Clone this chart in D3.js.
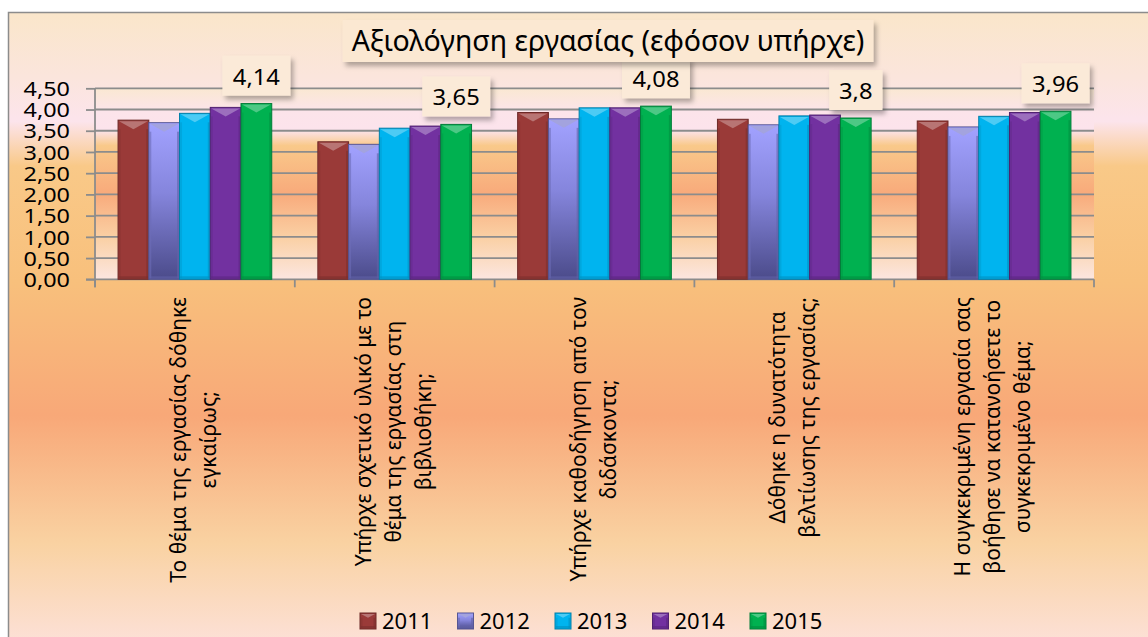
<!DOCTYPE html>
<html>
<head>
<meta charset="utf-8">
<script src="https://cdn.jsdelivr.net/npm/d3@7"></script>
<style>
  body { margin: 0; background: #fff; }
  svg { display: block; font-family: "Noto Sans", "Open Sans", sans-serif; }
</style>
</head>
<body>
<div id="chart"></div>
<script>
// chart data
const categories = [
  'Το θέμα της εργασίας δόθηκε\nεγκαίρως;',
  'Υπήρχε σχετικό υλικό με το\nθέμα της εργασίας στη\nβιβλιοθήκη;',
  'Υπήρχε καθοδήγηση από τον\nδιδάσκοντα;',
  'Δόθηκε η δυνατότητα\nβελτίωσης της εργασίας;',
  'Η συγκεκριμένη εργασία σας\nβοήθησε να κατανοήσετε το\nσυγκεκριμένο θέμα;',
];
const years = ['2011', '2012', '2013', '2014', '2015'];
const values2011 = [3.75, 3.24, 3.93, 3.77, 3.73];
const values2012 = [3.69, 3.18, 3.78, 3.64, 3.59];
const values2013 = [3.91, 3.56, 4.04, 3.85, 3.84];
const values2014 = [4.05, 3.61, 4.04, 3.87, 3.93];
const values2015 = [4.14, 3.65, 4.08, 3.8, 3.96];
const yTicks = [0, 0.5, 1, 1.5, 2, 2.5, 3, 3.5, 4, 4.5];
const title = 'Αξιολόγηση εργασίας (εφόσον υπήρχε)';

const series = [values2011, values2012, values2013, values2014, values2015];
const colors = ['#9a3a38', '#7b7bd0', '#00b4ef', '#7231a0', '#00b150'];

const width = 1148;
const height = 637;
const plot = { left: 95, right: 1094, top: 88.3, bottom: 279.3 };

const svg = d3.select('#chart').append('svg')
  .attr('width', width)
  .attr('height', height);

const defs = svg.append('defs');

const addGradient = (id, stops) => {
  const g = defs.append('linearGradient').attr('id', id)
    .attr('x1', 0).attr('y1', 0).attr('x2', 0).attr('y2', 1);
  stops.forEach(([o, c]) => g.append('stop').attr('offset', o).attr('stop-color', c));
};

addGradient('bg-chart', [
  [0, '#fae6ca'], [0.1, '#fbe5dc'], [0.17, '#fce4ec'], [0.24, '#f9c988'],
  [0.42, '#f8c07c'], [0.63, '#f8a878'], [0.83, '#f9d2a2'], [1, '#fde2dc'],
]);
addGradient('bg-plot', [
  [0, '#fae8d2'], [0.12, '#fce4ea'], [0.22, '#fce3ec'], [0.3, '#f9c98a'],
  [0.55, '#f8aa7b'], [0.78, '#fad0a4'], [1, '#fce6e0'],
]);
addGradient('bar-2012', [[0, '#a2a2ff'], [0.45, '#8585dc'], [1, '#4b4b8a']]);

const shadow = defs.append('filter').attr('id', 'shadow')
  .attr('x', '-20%').attr('y', '-20%').attr('width', '150%').attr('height', '160%');
shadow.append('feDropShadow')
  .attr('dx', 3).attr('dy', 4).attr('stdDeviation', 2.5)
  .attr('flood-color', '#000').attr('flood-opacity', 0.3);

// stretch text a little sideways, like the wide original font
const widen = (sel, k) => sel.each(function () {
  const n = d3.select(this);
  n.attr('textLength', this.getComputedTextLength() * k).attr('lengthAdjust', 'spacingAndGlyphs');
});

// chart area
svg.append('rect')
  .attr('x', 8.5).attr('y', 12.5)
  .attr('width', width).attr('height', 640)
  .attr('fill', 'url(#bg-chart)')
  .attr('stroke', '#8c8c8c')
  .attr('stroke-width', 1.5);

svg.append('rect')
  .attr('x', plot.left).attr('y', plot.top)
  .attr('width', plot.right - plot.left).attr('height', plot.bottom - plot.top)
  .attr('fill', 'url(#bg-plot)');

// scales
const x = d3.scaleBand().domain(d3.range(categories.length))
  .range([plot.left, plot.right]).padding(0);
const xs = d3.scaleBand().domain(years)
  .range([0, x.bandwidth()]).paddingInner(0).paddingOuter(0.75);
const y = d3.scaleLinear().domain([0, 4.5]).range([plot.bottom, plot.top]);

const locale = d3.formatLocale({ decimal: ',', thousands: '.', grouping: [3], currency: ['', '€'] });
const fmt = locale.format('.2f');

// gridlines + y axis
const yAxis = d3.axisLeft(y).tickValues(yTicks).tickFormat(fmt)
  .tickSize(9).tickPadding(16);
const gy = svg.append('g').attr('transform', `translate(${plot.left},0)`).call(yAxis);
gy.select('.domain').remove();
gy.selectAll('.tick line').attr('stroke', '#8c8c8c').attr('stroke-width', 1.8);
gy.selectAll('.tick text')
  .attr('font-size', 20).attr('fill', '#000')
  .attr('font-family', '"Noto Sans", sans-serif')
  .attr('dy', '0.36em');
widen(gy.selectAll('.tick text'), 1.17);

svg.append('g').selectAll('line')
  .data(yTicks.filter((t) => t > 0))
  .join('line')
  .attr('x1', plot.left).attr('x2', plot.right)
  .attr('y1', (d) => y(d)).attr('y2', (d) => y(d))
  .attr('stroke', '#8c8c8c').attr('stroke-width', 1.8);

svg.append('line')
  .attr('x1', plot.left).attr('x2', plot.left)
  .attr('y1', plot.top).attr('y2', plot.bottom + 8)
  .attr('stroke', '#8c8c8c').attr('stroke-width', 1.8);

// x axis
svg.append('line')
  .attr('x1', plot.left - 9).attr('x2', plot.right)
  .attr('y1', plot.bottom).attr('y2', plot.bottom)
  .attr('stroke', '#8c8c8c').attr('stroke-width', 1.8);
svg.append('g').selectAll('line')
  .data(d3.range(categories.length + 1))
  .join('line')
  .attr('x1', (i) => plot.left + i * x.step()).attr('x2', (i) => plot.left + i * x.step())
  .attr('y1', plot.bottom).attr('y2', plot.bottom + 8)
  .attr('stroke', '#8c8c8c').attr('stroke-width', 1.8);

// bars
const lighten = (c, k) => d3.interpolateRgb(c, '#fff')(k);
const darken = (c, k) => d3.interpolateRgb(c, '#000')(k);

const drawBevelBox = (g, x0, y0, w, h, fill, base) => {
  g.append('rect').attr('x', x0).attr('y', y0).attr('width', w).attr('height', h)
    .attr('fill', fill).attr('stroke', darken(base, 0.3)).attr('stroke-width', 1);
  const d = Math.min(w * 0.3, 9);
  g.append('path')
    .attr('d', `M${x0 + 1},${y0 + 1}L${x0 + w - 1},${y0 + 1}L${x0 + w / 2},${y0 + d}Z`)
    .attr('fill', lighten(base, 0.3));
  g.append('rect').attr('x', x0 + 0.5).attr('y', y0 + d)
    .attr('width', 2).attr('height', Math.max(h - d - 1, 0))
    .attr('fill', darken(base, 0.12)).attr('opacity', 0.6);
  g.append('rect').attr('x', x0 + w - 2.5).attr('y', y0 + d)
    .attr('width', 2).attr('height', Math.max(h - d - 1, 0))
    .attr('fill', darken(base, 0.2)).attr('opacity', 0.6);
  g.append('rect').attr('x', x0 + 0.5).attr('y', y0 + h - 3)
    .attr('width', w - 1).attr('height', 2.5)
    .attr('fill', darken(base, 0.2)).attr('opacity', 0.6);
};

const barsG = svg.append('g');
categories.forEach((cat, ci) => {
  years.forEach((yr, si) => {
    const v = series[si][ci];
    const fill = yr === '2012' ? 'url(#bar-2012)' : colors[si];
    const g = barsG.append('g');
    drawBevelBox(g, x(ci) + xs(yr), y(v), xs.bandwidth(), y(0) - y(v), fill, colors[si]);
  });
});

// data labels for last series
const labelsG = svg.append('g');
categories.forEach((cat, ci) => {
  const v = values2015[ci];
  const cx = x(ci) + xs('2015') + xs.bandwidth() / 2;
  const g = labelsG.append('g');
  const t = g.append('text')
    .attr('x', cx).attr('y', y(v) - 19)
    .attr('text-anchor', 'middle')
    .attr('font-size', 22).attr('fill', '#000')
    .text(String(v).replace('.', ','));
  widen(t, 1.08);
  const w = t.node().getComputedTextLength() * 1.08 + 17;
  g.insert('rect', 'text')
    .attr('x', cx - w / 2).attr('y', y(v) - 48)
    .attr('width', w).attr('height', 40)
    .attr('fill', '#fbead8')
    .attr('filter', 'url(#shadow)');
});

// category labels
const lineH = 30;
const catG = svg.append('g');
categories.forEach((cat, ci) => {
  const lines = cat.split('\n');
  const cx = x(ci) + x.bandwidth() / 2;
  const g = catG.append('g').attr('transform', `translate(${cx},297) rotate(-90)`);
  const texts = lines.map((ln, li) => g.append('text')
    .attr('y', (li - (lines.length - 1) / 2) * lineH + 6)
    .attr('text-anchor', 'middle')
    .attr('font-size', 21).attr('fill', '#000')
    .text(ln));
  const L = d3.max(texts, (t) => t.node().getComputedTextLength());
  texts.forEach((t) => t.attr('x', -L / 2));
});

// title
const titleG = svg.append('g');
const tt = titleG.append('text')
  .attr('x', 608).attr('y', 51)
  .attr('text-anchor', 'middle')
  .attr('font-size', 28.5).attr('fill', '#000')
  .text(title);
const tw = tt.node().getComputedTextLength() + 18;
titleG.insert('rect', 'text')
  .attr('x', 608 - tw / 2).attr('y', 20)
  .attr('width', tw).attr('height', 42)
  .attr('fill', '#fbe8d2')
  .attr('filter', 'url(#shadow)');

// legend
const lx = d3.scaleBand().domain(years).range([360, 847.5]);
const legend = svg.append('g');
years.forEach((yr, si) => {
  const g = legend.append('g');
  const fill = yr === '2012' ? 'url(#bar-2012)' : colors[si];
  drawBevelBox(g, lx(yr), 613, 16, 16, fill, colors[si]);
  g.append('text')
    .attr('x', lx(yr) + 22).attr('y', 629)
    .attr('font-size', 22).attr('fill', '#000')
    .text(yr);
});
</script>
</body>
</html>
